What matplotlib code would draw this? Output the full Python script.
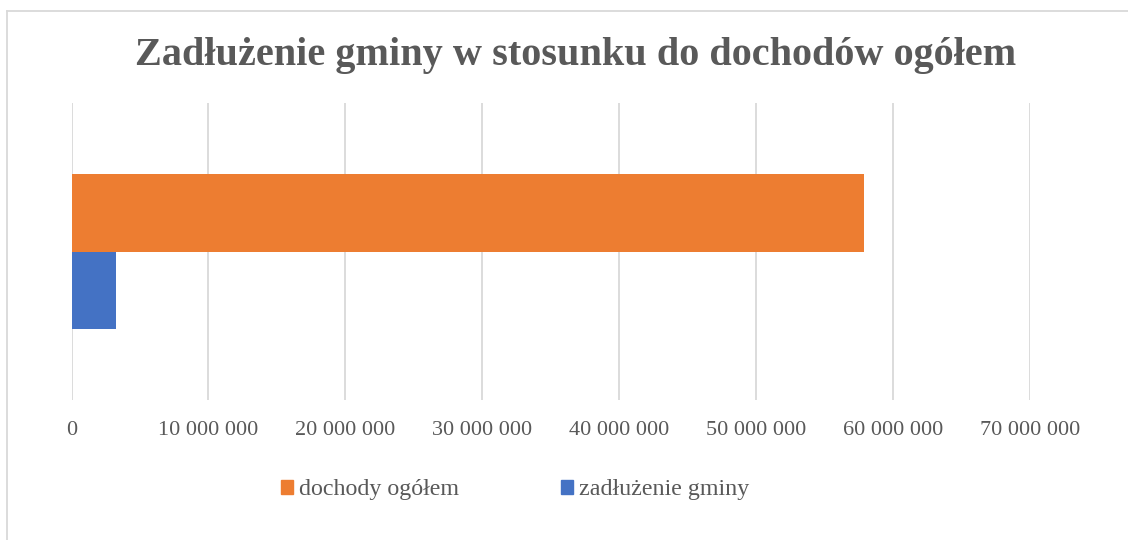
import matplotlib.pyplot as plt
from matplotlib.patches import Patch
from matplotlib.lines import Line2D
from matplotlib.ticker import FuncFormatter

series = ["dochody ogółem", "zadłużenie gminy"]
values = [57900000, 3230000]
colors = ["#ED7D31", "#4472C4"]
title = "Zadłużenie gminy w stosunku do dochodów ogółem"

plt.rcParams["font.family"] = ["Liberation Serif", "DejaVu Serif"]
grey = "#595959"

fig = plt.figure(figsize=(11.28, 5.4), dpi=100)
ax = fig.add_axes([71.5 / 1128, 1 - 400 / 540, (1030 - 71.5) / 1128, 297 / 540])

h = 0.2626
pos = [h / 2, -h / 2]
for p, v, c, s in zip(pos, values, colors, series):
    ax.barh(p, v, height=h, color=c, label=s, zorder=3)

ax.set_xlim(0, 70000000)
ax.set_ylim(-0.5, 0.5)
ax.set_xticks(range(0, 70000001, 10000000))
ax.xaxis.set_major_formatter(FuncFormatter(lambda x, _: f"{int(x):,}".replace(",", " ")))
ax.set_yticks([])
ax.grid(axis="x", color="#D9D9D9", linewidth=1.3, zorder=0)
for sp in ax.spines.values():
    sp.set_visible(False)
ax.tick_params(axis="x", length=0, pad=15, labelsize=16, labelcolor=grey)

fig.text(576 / 1128, 1 - 55 / 540, title, ha="center", va="center",
         fontsize=29, fontweight="bold", color=grey)

# chart border (left and top edges visible)
fig.add_artist(Line2D([7 / 1128, 7 / 1128], [0, 1 - 11 / 540], transform=fig.transFigure,
                      color="#D9D9D9", linewidth=1.3))
fig.add_artist(Line2D([7 / 1128, 1], [1 - 11 / 540, 1 - 11 / 540], transform=fig.transFigure,
                      color="#D9D9D9", linewidth=1.3))

handles = [Patch(color=c, label=s) for c, s in zip(colors, series)]
fig.legend(handles=handles, loc="center", bbox_to_anchor=(515 / 1128, 1 - 490 / 540),
           ncol=2, frameon=False, fontsize=17.3, labelcolor=grey,
           handlelength=0.5, handleheight=0.5, handletextpad=0.25, columnspacing=4.25)

fig.savefig("out.png", dpi=100)
